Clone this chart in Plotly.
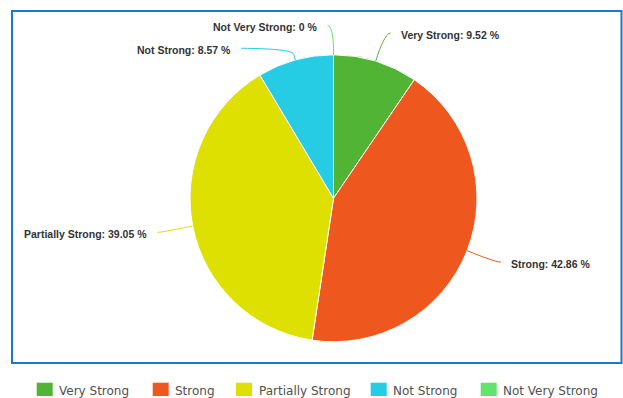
import math
import plotly.graph_objects as go

W, H = 623, 398

# Category shares (percent) and their slice colours
labels = ["Very Strong", "Strong", "Partially Strong", "Not Strong", "Not Very Strong"]
shares = [9.52, 42.86, 39.05, 8.57, 0.0]
colors = ["#52b435", "#ee581e", "#dde000", "#26cbe4", "#64e26e"]

# Pie geometry in page pixels
cx, cy, r = 333.5, 198.3, 143.5
label_dist = 30          # label ring sits this far outside the pie
min_gap = 23             # minimum vertical spacing between labels on one side
break_off = 6            # connector bend point beyond the rim

# Legend row layout (page pixels): left edge of each swatch
legend_left = [36.7, 152.7, 236.0, 370.7, 480.7]
swatch_w, swatch_top, swatch_bot = 16, 382.7, 396
legend_text_dx, legend_text_y = 22.6, 390.5


def px(x):
    return x / W


def py(y):
    return 1 - y / H


fig = go.Figure(
    go.Pie(
        labels=labels,
        values=shares,
        marker=dict(colors=colors, line=dict(color="white", width=1)),
        sort=False,
        direction="clockwise",
        rotation=0,
        textinfo="none",
        hoverinfo="label+percent",
        showlegend=False,
        domain=dict(x=[px(cx - r), px(cx + r)], y=[py(cy + r), py(cy - r)]),
    )
)

# Place data labels Highcharts-style around the pie
total = sum(shares)
items = []
acc = 0.0
for lab, val, col in zip(labels, shares, colors):
    mid = (acc + val / 2) / total * 2 * math.pi
    acc += val
    side = "right" if math.sin(mid) > 1e-9 else "left"
    R = r + label_dist
    y_nat = cy - R * math.cos(mid)
    items.append(dict(label=lab, value=val, color=col, theta=mid, side=side, y=y_nat))

for side in ("left", "right"):
    group = sorted([it for it in items if it["side"] == side], key=lambda d: d["y"])
    for i in range(1, len(group)):
        group[i]["y"] = max(group[i]["y"], group[i - 1]["y"] + min_gap)

shapes = []
annotations = []
for it in items:
    R = r + label_dist
    dy = it["y"] - cy
    dx = math.sqrt(max(R * R - dy * dy, 0.0))
    sgn = 1 if it["side"] == "right" else -1
    lx = cx + sgn * dx
    ax, ay = lx + sgn * 6, it["y"] + 0.5
    th = it["theta"]
    tx, ty = cx + r * math.sin(th), cy - r * math.cos(th)
    bx, by = cx + (r + break_off) * math.sin(th), cy - (r + break_off) * math.cos(th)
    c2x, c2y = 2 * bx - tx, 2 * by - ty
    c1x = ax - sgn * 5
    path = (
        f"M{px(ax)},{py(ay)} C{px(c1x)},{py(ay)} {px(c2x)},{py(c2y)} {px(bx)},{py(by)} "
        f"L{px(tx)},{py(ty)}"
    )
    shapes.append(dict(type="path", xref="paper", yref="paper", path=path,
                       line=dict(color=it["color"], width=1)))
    annotations.append(dict(
        xref="paper", yref="paper",
        x=px(ax + sgn * 10), y=py(it["y"] + 2),
        xanchor="left" if sgn > 0 else "right", yanchor="middle",
        text=f"<b>{it['label']}: {it['value']:g} %</b>",
        showarrow=False, borderpad=0, borderwidth=0,
        font=dict(family="Liberation Sans, Arial, sans-serif", size=10.5, color="#333333"),
    ))

# Blue frame around the chart area
shapes.append(dict(type="rect", xref="paper", yref="paper",
                   x0=px(12), x1=px(621.5), y0=py(363), y1=py(11),
                   line=dict(color="#1a78d0", width=2), layer="below"))

# Legend row below the frame: colour swatch + category name
for lab, col, x0 in zip(labels, colors, legend_left):
    shapes.append(dict(type="rect", xref="paper", yref="paper",
                       x0=px(x0), x1=px(x0 + swatch_w), y0=py(swatch_bot), y1=py(swatch_top),
                       fillcolor=col, line=dict(width=0)))
    annotations.append(dict(
        xref="paper", yref="paper",
        x=px(x0 + legend_text_dx), y=py(legend_text_y),
        xanchor="left", yanchor="middle", text=lab, showarrow=False,
        borderpad=0, borderwidth=0,
        font=dict(family="DejaVu Sans, sans-serif", size=12, color="#505050"),
    ))

fig.update_layout(
    width=W, height=H, autosize=False,
    margin=dict(l=0, r=0, t=0, b=0, autoexpand=False),
    paper_bgcolor="white", plot_bgcolor="white",
    shapes=shapes, annotations=annotations,
    showlegend=False,
)

fig.write_html("out.html")
